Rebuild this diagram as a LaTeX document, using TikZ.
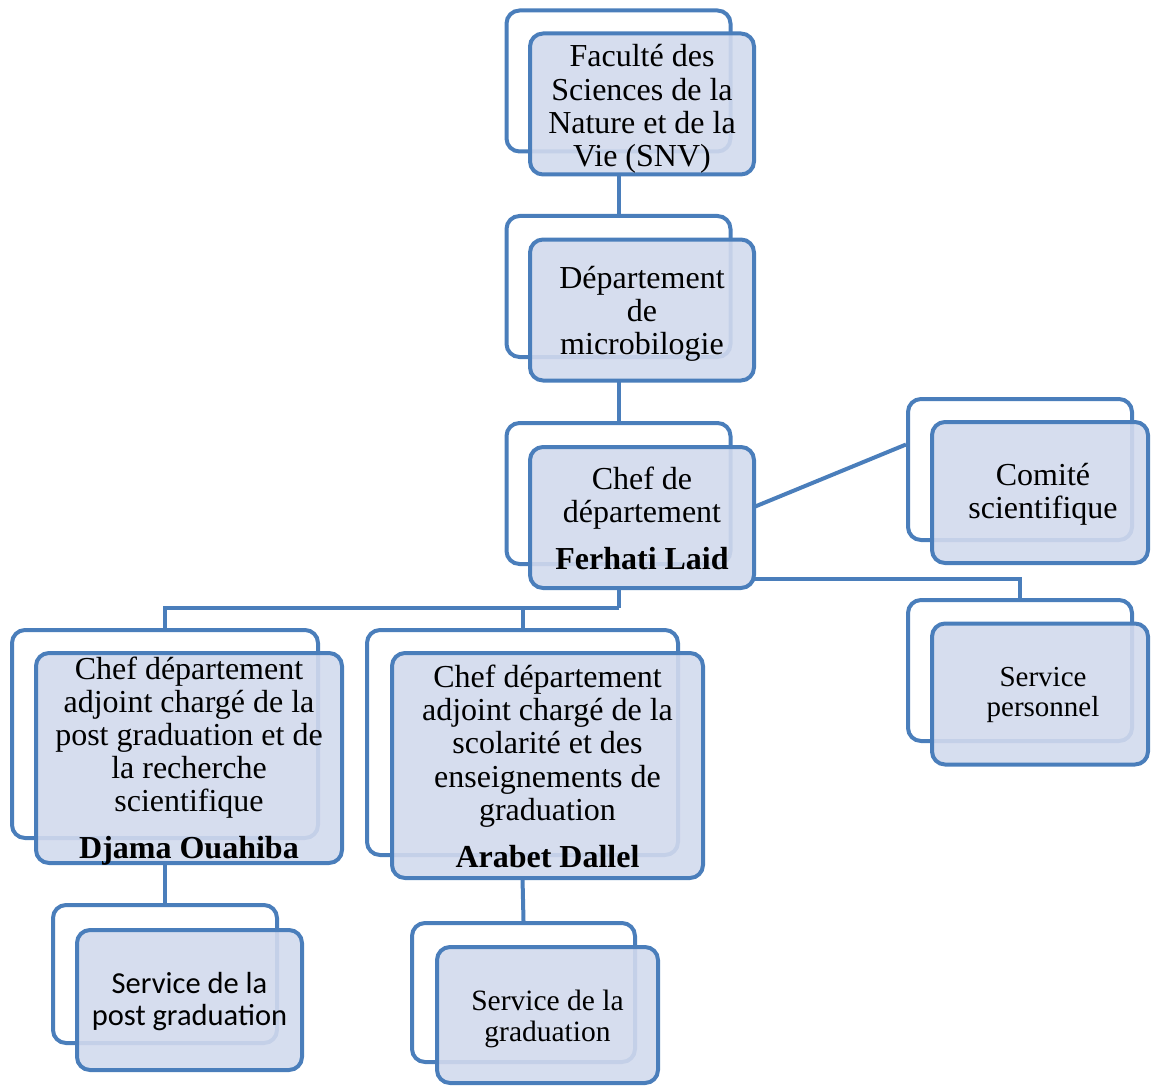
\documentclass[tikz,border=0pt]{standalone}
\usepackage{fontspec}
\setmainfont{Liberation Serif}
\newfontfamily\calibri{Carlito}
\definecolor{edgeblue}{RGB}{74,126,187}
\definecolor{boxfill}{RGB}{210,218,237}
\tikzset{
  backbox/.style={draw=edgeblue, line width=4pt, rounded corners=13pt, fill=white,
    minimum width=224pt, minimum height=141pt, inner sep=0pt},
  frontbox/.style={draw=edgeblue, line width=4pt, rounded corners=13pt, fill=boxfill,
    fill opacity=0.9, minimum width=224pt, minimum height=141pt, inner sep=0pt},
  boxtext/.style={align=center, inner sep=0pt, font=\fontsize{32}{33.3}\selectfont},
  conn/.style={draw=edgeblue, line width=4pt},
}
\begin{document}
\begin{tikzpicture}[x=1pt,y=-1pt]
\useasboundingbox (0,0) rectangle (1151,1086);
% back boxes
\node[backbox] (b1) at (618.5,81) {};
\node[backbox] (b2) at (618.5,286.5) {};
\node[backbox] (b3) at (618.5,493.5) {};
\node[backbox] (bc) at (1020,469.5) {};
\node[backbox] (bsp) at (1020,670.5) {};
\node[backbox, minimum width=306pt, minimum height=208pt] (bl) at (165,734) {};
\node[backbox, minimum width=311pt, minimum height=225pt] (bm) at (522.5,742.5) {};
\node[backbox, minimum height=138pt] (bpg) at (165,974) {};
\node[backbox, minimum width=223pt, minimum height=139pt] (bg) at (523.5,992.5) {};
% connectors
\coordinate (bus) at (618.5,608);
\draw[conn] (b1.center |- 0,175) -- (b2.north);
\draw[conn] (b2.center |- 0,381) -- (b3.north);
\draw[conn] (754,507) -- ([yshift=25pt]bc.west);
\draw[conn] (754,579) -| (bsp.north);
\draw[conn] (b3.center |- 0,588) -- (bus);
\draw[conn] (bl.north) |- (bus);
\draw[conn] (bm.north) -- (bm.north |- bus);
\draw[conn] (bl.center |- 0,863) -- (bpg.north);
\draw[conn] (bm.center |- 0,878) -- (bg.north);
% front boxes
\node[frontbox] (f1) at (642,104) {};
\node[frontbox] (f2) at (642,310) {};
\node[frontbox] (f3) at (642,517.5) {};
\node[frontbox, minimum width=216pt] (fc) at (1040,492.5) {};
\node[frontbox, minimum width=216pt] (fsp) at (1040,694) {};
\node[frontbox, minimum width=306pt, minimum height=210pt] (fl) at (189,758) {};
\node[frontbox, minimum width=311pt, minimum height=225pt] (fm) at (547.5,765.5) {};
\node[frontbox, minimum width=225pt, minimum height=140pt] (fpg) at (189.5,1000) {};
\node[frontbox, minimum width=221pt, minimum height=136pt] (fg) at (547.5,1015) {};
% texts
\node[boxtext, yshift=-5pt] (t1) at (f1.center) {Faculté des\\Sciences de la\\Nature et de la\\Vie (SNV)};
\node[boxtext, yshift=-4pt] (t2) at (f2.center) {Département\\de\\microbilogie};
\node[boxtext, yshift=-1pt] (t3) at (f3.center) {Chef de\\département\\[14pt]\textbf{Ferhati Laid}};
\node[boxtext, yshift=-2pt] (tc) at ([xshift=3pt]fc.center) {Comité\\scientifique};
\node[boxtext, yshift=-1pt, font=\fontsize{29}{30.5}\selectfont] (tsp) at ([xshift=3pt]fsp.center) {Service\\personnel};
\node[boxtext, yshift=-3pt, font=\fontsize{32}{33}\selectfont] (tl) at (fl.center)
  {Chef département\\adjoint chargé de la\\post graduation et de\\la recherche\\scientifique\\[14pt]\textbf{Djama Ouahiba}};
\node[boxtext, yshift=-1pt] (tm) at (fm.center)
  {Chef département\\adjoint chargé de la\\scolarité et des\\enseignements de\\graduation\\[14pt]\textbf{Arabet Dallel}};
\node[boxtext, yshift=-2pt, font=\calibri\fontsize{30.5}{32}\selectfont] (tpg) at (fpg.center) {Service de la\\post graduation};
\node[boxtext, yshift=-4pt, font=\fontsize{29.5}{31}\selectfont] (tg) at (fg.center) {Service de la\\graduation};
\end{tikzpicture}
\end{document}
